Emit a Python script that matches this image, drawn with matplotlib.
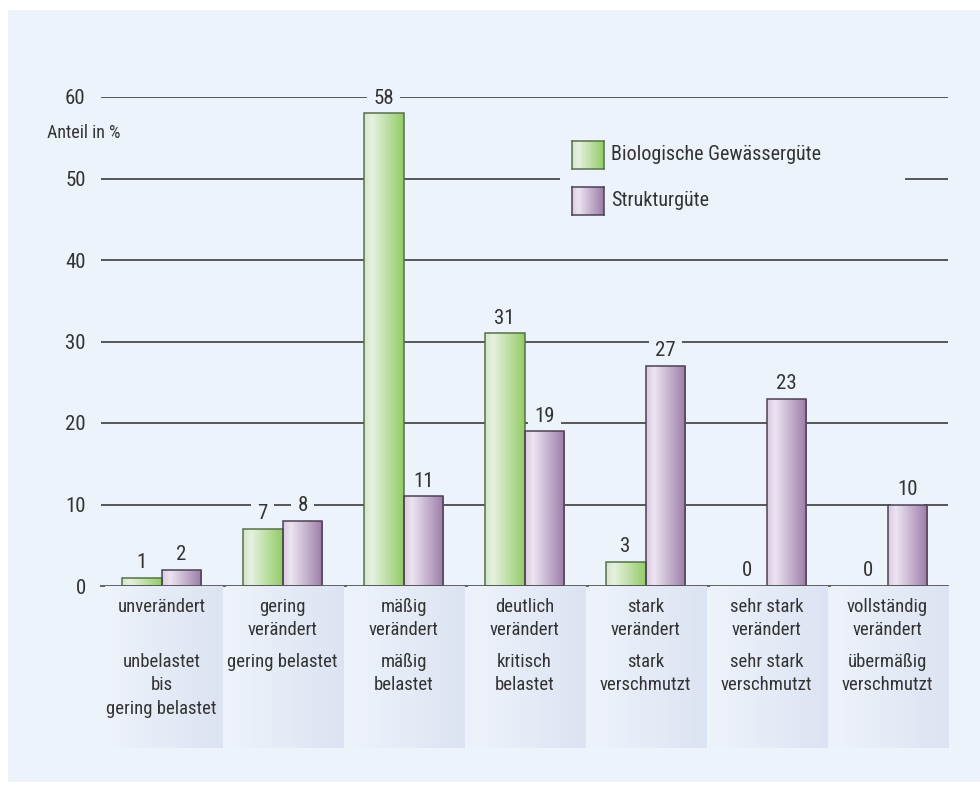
import numpy as np
import matplotlib
matplotlib.use("Agg")
import matplotlib.pyplot as plt
import matplotlib.font_manager as fm
from matplotlib.colors import LinearSegmentedColormap
from matplotlib.patches import Rectangle

# ---- data ----
struktur_labels = ["unverändert", "gering\nverändert", "mäßig\nverändert", "deutlich\nverändert",
                   "stark\nverändert", "sehr stark\nverändert", "vollständig\nverändert"]
bio_labels = ["unbelastet\nbis\ngering belastet", "gering belastet", "mäßig\nbelastet",
              "kritisch\nbelastet", "stark\nverschmutzt", "sehr stark\nverschmutzt",
              "übermäßig\nverschmutzt"]
bio_values = [1, 7, 58, 31, 3, 0, 0]
struktur_values = [2, 8, 11, 19, 27, 23, 10]
series_names = ["Biologische Gewässergüte", "Strukturgüte"]
yticks = [0, 10, 20, 30, 40, 50, 60]


def pick_font():
    prefs = ["robotocondensed", "opensans_condensed", "opensanscondensed",
             "liberationsansnarrow", "dejavusanscondensed", "notosanscondensed"]
    found = {}
    for f in fm.fontManager.ttflist:
        name = f.fname.replace("\\", "/").split("/")[-1].lower().replace("-", "")
        if any(k in name for k in ("bold", "italic", "oblique", "light", "thin", "medium",
                                    "black", "semi", "extra")):
            continue
        for p in prefs:
            if name.startswith(p):
                found.setdefault(p, f.fname)
    for p in prefs:
        if p in found:
            return fm.FontProperties(fname=found[p])
    return fm.FontProperties(family=["Roboto", "DejaVu Sans"])


BASE = pick_font()


def fp(size):
    p = BASE.copy()
    p.set_size(size)
    return p


TXT = "#333333"
BG = "#edf3fa"

W, H = 980, 787
fig = plt.figure(figsize=(W / 100, H / 100), dpi=100)
fig.patch.set_facecolor("white")


def fx(px):
    return px / W


def fy(py):
    return 1 - py / H


# background panel
fig.add_artist(Rectangle((fx(8), fy(782)), fx(972), 772 / H, transform=fig.transFigure,
                         facecolor=BG, edgecolor="none", zorder=-10))

green_cmap = LinearSegmentedColormap.from_list(
    "g", [(0, "#d2e6c8"), (0.2, "#e6f1e0"), (1, "#93cb66")])
purple_cmap = LinearSegmentedColormap.from_list(
    "p", [(0, "#d8cae0"), (0.2, "#ede4f2"), (1, "#9a7ba7")])
panel_cmap = LinearSegmentedColormap.from_list("b", [(0, "#eef3fb"), (1, "#dce3f2")])
grad = np.linspace(0, 1, 256).reshape(1, -1)

# ---- main axes ----
left_px, right_px = 101, 948
top_px, base_px = 97, 586
ax = fig.add_axes([fx(left_px), fy(base_px), (right_px - left_px) / W, (base_px - top_px) / H])
ax.set_facecolor("none")
n = len(struktur_labels)
x = np.arange(n)
bw = 0.33

for v in yticks[1:]:
    ax.axhline(v, color="#3c3c3c", lw=1.2, zorder=1)

b1 = ax.bar(x - bw / 2, bio_values, bw, facecolor="none", edgecolor="#56704a", lw=1.1, zorder=4)
b2 = ax.bar(x + bw / 2, struktur_values, bw, facecolor="none", edgecolor="#4c4152", lw=1.1, zorder=4)
for bars, cmap in ((b1, green_cmap), (b2, purple_cmap)):
    for p in bars:
        if p.get_height() <= 0:
            p.set_visible(False)
            continue
        x0, y0 = p.get_x(), p.get_y()
        im = ax.imshow(grad, extent=[x0, x0 + p.get_width(), y0, y0 + p.get_height()],
                       aspect="auto", cmap=cmap, zorder=3, interpolation="bilinear")
        im.set_clip_path(p)

for bars, vals in ((b1, bio_values), (b2, struktur_values)):
    for p, v in zip(bars, vals):
        ax.annotate(str(v), (p.get_x() + p.get_width() / 2, v), xytext=(0, 4),
                    textcoords="offset points", ha="center", va="bottom",
                    fontproperties=fp(15), color=TXT, zorder=2,
                    bbox=dict(boxstyle="square,pad=0.3", fc=BG, ec="none"))

ax.set_xlim(-0.5, n - 0.5)
ax.set_ylim(0, 60)
ax.set_yticks(yticks)
ax.set_yticklabels([str(v) for v in yticks], color=TXT)
for t in ax.get_yticklabels():
    t.set_fontproperties(fp(15))
ax.tick_params(axis="y", length=0, pad=11)
ax.set_xticks([])
for s in ax.spines.values():
    s.set_visible(False)

# ---- category label panels ----
bot_px = 748
ax2 = fig.add_axes([fx(left_px), fy(bot_px), (right_px - left_px) / W, (bot_px - base_px) / H])
for i in range(n):
    ax2.imshow(grad, extent=[i - 0.5 + 0.03, i + 0.5, bot_px - base_px, 0], aspect="auto",
               cmap=panel_cmap, zorder=0, interpolation="bilinear")
    for j, line in enumerate(struktur_labels[i].split("\n")):
        ax2.text(i, 21 + 23 * j, line, ha="center", va="center", fontproperties=fp(13.5), color=TXT)
    for j, line in enumerate(bio_labels[i].split("\n")):
        ax2.text(i, 76 + 23.3 * j, line, ha="center", va="center", fontproperties=fp(13.5), color=TXT)
ax2.set_xlim(-0.5, n - 0.5)
ax2.set_ylim(bot_px - base_px, 0)
ax2.axis("off")
ax.axhline(0, color="#555555", lw=1.3, zorder=6, clip_on=False)

# axis title
fig.text(fx(47), fy(133), "Anteil in %", ha="left", va="center", fontproperties=fp(13), color=TXT)

# ---- legend ----
fig.add_artist(Rectangle((fx(560), fy(228)), 345 / W, 100 / H, transform=fig.transFigure,
                         facecolor=BG, edgecolor="none", zorder=2))
for (y0, y1), cmap, ec, name in (((141, 169), green_cmap, "#56704a", series_names[0]),
                                 ((187, 215), purple_cmap, "#4c4152", series_names[1])):
    lax = fig.add_axes([fx(572), fy(y1), 32 / W, (y1 - y0) / H])
    lax.set_zorder(5)
    lax.imshow(grad, aspect="auto", cmap=cmap, interpolation="bilinear")
    lax.set_xticks([])
    lax.set_yticks([])
    for s in lax.spines.values():
        s.set_color(ec)
        s.set_linewidth(1.1)
    t = fig.text(fx(611), fy((y0 + y1) / 2), name, ha="left", va="center",
                 fontproperties=fp(14.5), color=TXT)
    t.set_zorder(5)

fig.savefig("out.png", dpi=100, facecolor="white")
